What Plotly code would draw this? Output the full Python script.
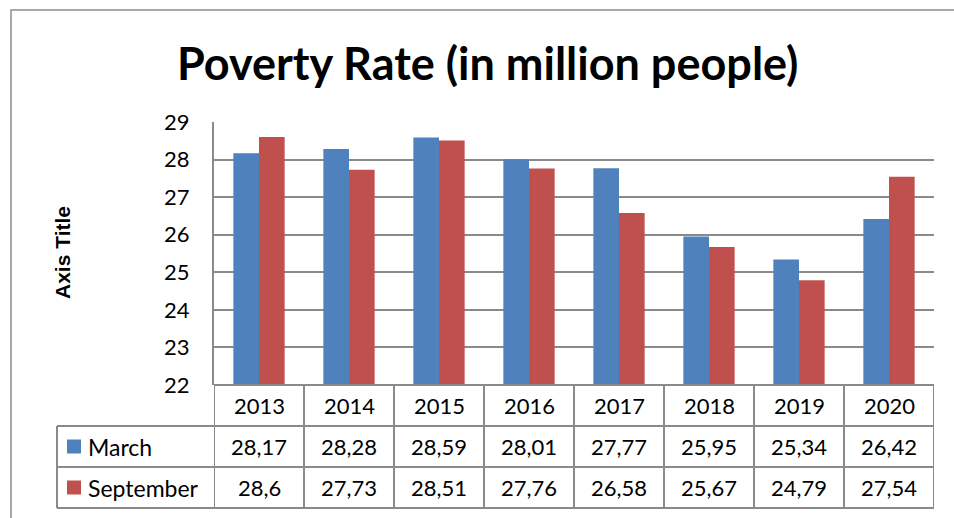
import plotly.graph_objects as go

years = ["2013", "2014", "2015", "2016", "2017", "2018", "2019", "2020"]
march = [28.17, 28.28, 28.59, 28.01, 27.77, 25.95, 25.34, 26.42]
september = [28.6, 27.73, 28.51, 27.76, 26.58, 25.67, 24.79, 27.54]
series_names = ["March", "September"]
series_colors = ["#4F81BD", "#C0504D"]
y_ticks = [22, 23, 24, 25, 26, 27, 28, 29]

W, H = 954, 518
PL, PR, PT, PB = 214, 934, 122, 385
FONT = "Lato"
GRID = "#8a8a8a"


def px(x):
    return (x - PL) / (PR - PL)


def py(y):
    return (PB - y) / (PB - PT)


def fmt(v):
    return f"{v:g}".replace(".", ",")


fig = go.Figure()
for name, vals, col in zip(series_names, [march, september], series_colors):
    fig.add_trace(go.Bar(x=years, y=vals, name=name, marker=dict(color=col, line=dict(width=0)),
                         showlegend=False))

shapes = []
annotations = []

# outer chart border
shapes.append(dict(type="rect", xref="paper", yref="paper", x0=px(11), x1=px(990), y0=py(560), y1=py(10),
                   line=dict(color="#8c8c8c", width=1.5), layer="below"))

# data table lines
row_y = [385, 426, 467, 508]
for i, yy in enumerate(row_y):
    x0 = px(PL) if i == 0 else px(57)
    shapes.append(dict(type="line", xref="paper", yref="paper", x0=x0, x1=px(PR), y0=py(yy), y1=py(yy),
                       line=dict(color=GRID, width=2)))
for i in range(len(years) + 1):
    shapes.append(dict(type="line", xref="x", yref="paper", x0=i - 0.5, x1=i - 0.5, y0=py(385), y1=py(508),
                       line=dict(color=GRID, width=2)))
shapes.append(dict(type="line", xref="paper", yref="paper", x0=px(57), x1=px(57), y0=py(426), y1=py(508),
                   line=dict(color=GRID, width=2)))

# header row
for i, yr in enumerate(years):
    annotations.append(dict(x=i, xref="x", y=py(405.5), yref="paper", text=yr, showarrow=False,
                            font=dict(family=FONT, size=22, color="black"), xanchor="center", yanchor="middle"))
# value rows
for r, (name, vals, col) in enumerate(zip(series_names, [march, september], series_colors)):
    yc = 446.5 + 41 * r
    for i, v in enumerate(vals):
        annotations.append(dict(x=i, xref="x", y=py(yc), yref="paper", text=fmt(v), showarrow=False,
                                font=dict(family=FONT, size=22, color="black"), xanchor="center", yanchor="middle"))
    shapes.append(dict(type="rect", xref="paper", yref="paper", x0=px(67), x1=px(81), y0=py(yc + 7), y1=py(yc - 7),
                       fillcolor=col, line=dict(width=0)))
    annotations.append(dict(x=px(86), xref="paper", y=py(yc), yref="paper", text=name, showarrow=False,
                            font=dict(family=FONT, size=23, color="black"), xanchor="left", yanchor="middle"))

# title
annotations.append(dict(x=px(487), xref="paper", y=py(63), yref="paper", text="<b>Poverty Rate (in million people)</b>",
                        showarrow=False, font=dict(family=FONT, size=45, color="black"),
                        xanchor="center", yanchor="middle"))
# axis title
annotations.append(dict(x=px(62), xref="paper", y=py(253), yref="paper", text="<b>Axis Title</b>", textangle=-90,
                        showarrow=False, font=dict(family="Liberation Sans", size=21, color="black"),
                        xanchor="center", yanchor="middle"))

fig.update_layout(
    width=W, height=H,
    margin=dict(l=PL, r=W - PR, t=PT, b=H - PB),
    paper_bgcolor="white", plot_bgcolor="white",
    barmode="group", bargap=0.43, bargroupgap=0,
    shapes=shapes, annotations=annotations,
    font=dict(family=FONT, color="black"),
    xaxis=dict(type="category", range=[-0.5, len(years) - 0.5], showticklabels=False, showgrid=False,
               zeroline=False, showline=False, ticks=""),
    yaxis=dict(range=[22, 29], tickvals=y_ticks, showgrid=True, gridcolor=GRID, gridwidth=1.5,
               zeroline=False, showline=True, linecolor=GRID, linewidth=2, ticks="",
               tickfont=dict(family=FONT, size=22, color="black"), ticklabelstandoff=18),
)

fig.write_html("out.html")
